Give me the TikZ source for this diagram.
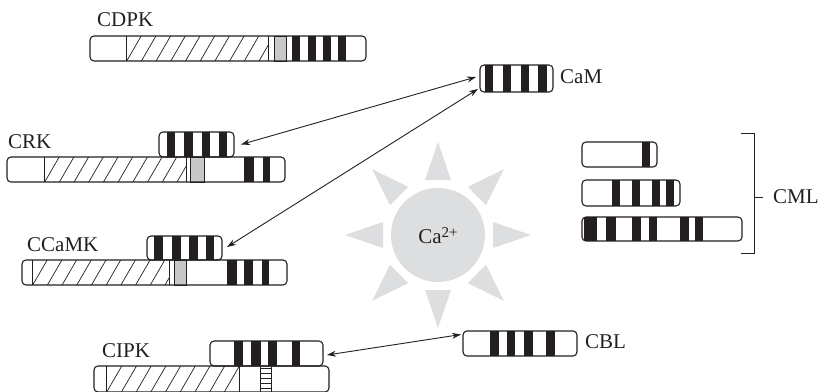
\documentclass[tikz,border=0pt]{standalone}
\usepackage{fontspec}
\setmainfont{Liberation Serif}
\usetikzlibrary{calc,arrows.meta}
\definecolor{ink}{HTML}{231F20}
\definecolor{domgray}{HTML}{C8C8C8}
\definecolor{sunfill}{HTML}{DDDEE0}
\tikzset{
  dom/.style={draw=ink, line width=1.1pt, rounded corners=4pt, inner sep=0pt, outer sep=0pt, rectangle},
  hatchline/.style={draw=ink, line width=0.7pt},
  sepline/.style={draw=ink, line width=0.8pt},
  conn/.style={draw=ink, line width=0.9pt, {Stealth[length=9pt,width=6pt]}-{Stealth[length=9pt,width=6pt]}},
  lbl/.style={font=\fontsize{21}{24}\selectfont, text=ink, inner sep=0pt, anchor=base west},
  sunray/.style={fill=sunfill, draw=none},
}
% outlined domain bar: name, left, top, right, bottom
\newcommand\dom[5]{\node[dom, anchor=north west, minimum width={#4-#2}, minimum height={#5-#3}] (#1) at (#2,#3) {};}
% black stripes clipped to a bar: left, top, right, bottom, list of from/to
\newcommand\stripes[5]{\begin{scope}
  \clip[rounded corners=4pt] (#1,#2) rectangle (#3,#4);
  \foreach \a/\b in {#5}{\fill[ink] (\a,#2) rectangle (\b,#4);}
\end{scope}}
% hatched kinase region: left, top, right, bottom
\newcommand\hatch[4]{\begin{scope}
  \clip (#1,#2) rectangle (#3,#4);
  \foreach \k in {0,...,12}{\draw[hatchline] ({#1-14+\k*14.7},#4) -- ++({0.58*(#4-#2)},{#2-#4});}
\end{scope}
\draw[sepline] (#1,#2) -- (#1,#4) (#3,#2) -- (#3,#4);}
% grey junction segment
\newcommand\grayseg[4]{\filldraw[fill=domgray, draw=ink, line width=0.8pt] (#1,#2) rectangle (#3,#4);}

\begin{document}
\begin{tikzpicture}[x=1pt, y=-1pt]
\useasboundingbox (0,0) rectangle (819,391);
\clip (0,0) rectangle (819,391);

% calcium sun
\coordinate (sunc) at (438,235);
\foreach \ang in {0,45,...,315}{
  \fill[sunray, rotate around={\ang:(sunc)}] (493,222) -- (531,235) -- (493,248) -- cycle;}
\node[circle, fill=sunfill, minimum size=94pt, inner sep=0pt] (sun) at (sunc) {};
\node[font=\fontsize{21}{24}\selectfont, text=ink, inner sep=0pt, anchor=base] (ca) at (438,243)
  {Ca\raisebox{6pt}{\fontsize{15}{15}\selectfont 2+}};

% CDPK
\hatch{126}{36}{268}{61}
\grayseg{274}{36}{286}{61}
\stripes{90}{36}{366}{61}{292/300,308/316,323/331,338/346}
\dom{cdpk}{90}{36}{366}{61}
\node[lbl] (cdpkl) at (97,26) {CDPK};

% CRK
\stripes{159}{132}{234}{157}{167/175,184/193,202/210,219/227}
\dom{crku}{159}{132}{234}{157}
\hatch{44}{157}{186}{182}
\grayseg{190}{157}{204}{182}
\stripes{7}{157}{285}{182}{244/254,263/270}
\dom{crk}{7}{157}{285}{182}
\node[lbl] (crkl) at (8,148) {CRK};

% CCaMK
\stripes{147}{236}{222}{260}{154/163,172/181,189/198,206/214}
\dom{ccamku}{147}{236}{222}{260}
\hatch{32}{260}{169}{285}
\grayseg{174}{260}{186}{285}
\stripes{22}{260}{287}{285}{227/237,244/253,262/269}
\dom{ccamk}{22}{260}{287}{285}
\node[lbl] (ccamkl) at (27,251) {CCaMK};

% CIPK
\stripes{210}{341}{323}{366}{234/243,251/261,268/277,292/300}
\dom{cipku}{210}{341}{323}{366}
\hatch{106}{366}{239}{392}
\draw[sepline] (260,367) -- (260,392) (271,367) -- (271,392);
\foreach \yy in {368,373,378,383,388}{\draw[sepline] (260,\yy) -- (271,\yy);}
\dom{cipk}{94}{366}{329}{392}
\node[lbl] (cipkl) at (102,357) {CIPK};

% CaM
\stripes{480}{65}{553}{92}{485/493,503/511,521/529,538/547}
\dom{cam}{480}{65}{553}{92}
\node[lbl] (caml) at (560,83) {CaM};

% CBL
\stripes{463}{331}{577}{356}{490/499,507/515,524/533,546/555}
\dom{cbl}{463}{331}{577}{356}
\node[lbl] (cbll) at (585,348) {CBL};

% CML family
\stripes{582}{142}{657}{167}{642/650}
\dom{cmla}{582}{142}{657}{167}
\stripes{582}{180}{680}{206}{612/620,632/640,652/660,666/674}
\dom{cmlb}{582}{180}{680}{206}
\stripes{582}{217}{742}{241}{584/597,606/616,632/641,649/657,680/689,695/703}
\dom{cmlc}{582}{217}{742}{241}
\draw[ink, line width=1pt] (741,133) -- (754,133) -- (754,253) -- (741,253);
\coordinate (brk) at (754,197);
\draw[ink, line width=1pt] (brk) -- ++(9,0);
\node[lbl] (cmll) at (773,203) {CML};

% interactions
\draw[conn] ($(crku.east)+(7,0)$) -- ($(cam.west)+(-4,-1.5)$);
\draw[conn] ($(ccamku.east)+(5,-1)$) -- ($(cam.south west)+(-2,-3)$);
\draw[conn] ($(cipku.east)+(4,1.5)$) -- ($(cbl.west)+(-2,-9)$);
\end{tikzpicture}
\end{document}
